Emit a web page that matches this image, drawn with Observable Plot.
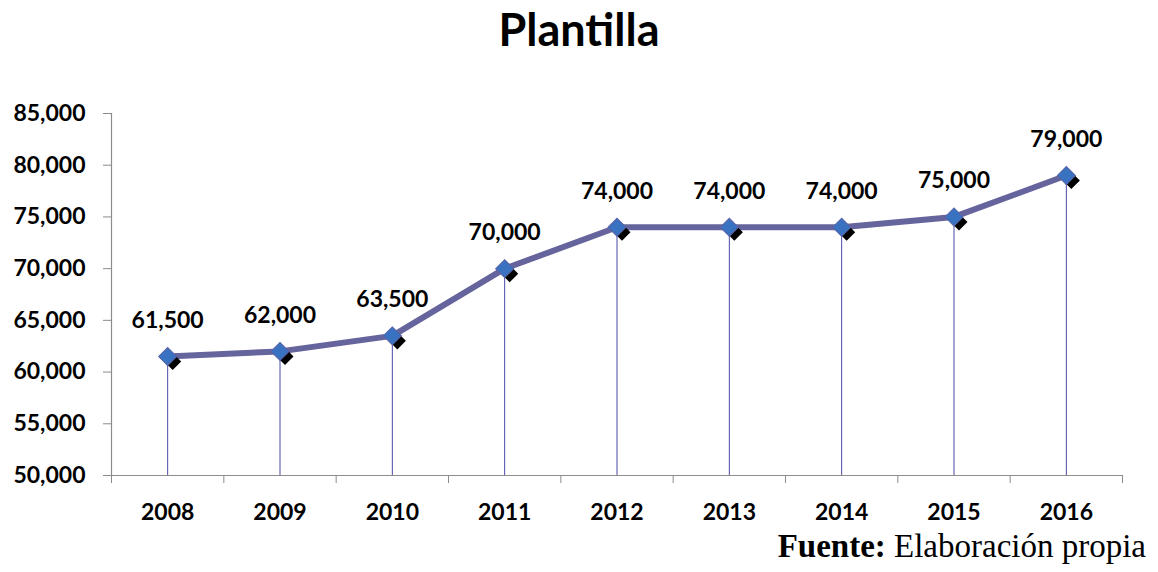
<!DOCTYPE html>
<html>
<head>
<meta charset="utf-8">
<script src="https://cdn.jsdelivr.net/npm/d3@7"></script>
<script src="https://cdn.jsdelivr.net/npm/@observablehq/plot@0.6"></script>
<style>
  html, body { margin: 0; padding: 0; background: #fff; }
  #wrap { position: relative; width: 1158px; height: 572px; overflow: hidden; }
  #title { position: absolute; left: 0; top: 2px; width: 1158px; text-align: center;
           font-family: Lato, sans-serif; font-weight: bold; font-size: 45px; color: #000; }
  #chart { position: absolute; left: 0; top: 70px; }
  #caption { position: absolute; right: 12px; top: 528px; font-family: "Liberation Serif", serif;
             font-size: 33px; color: #000; }
</style>
</head>
<body>
<div id="wrap">
  <div id="title">Plantilla</div>
  <div id="chart"></div>
  <div id="caption"><b>Fuente:</b> Elaboración propia</div>
</div>
<script>
const years = [2008, 2009, 2010, 2011, 2012, 2013, 2014, 2015, 2016];
const values = [61500, 62000, 63500, 70000, 74000, 74000, 74000, 75000, 79000];
const yTicks = [50000, 55000, 60000, 65000, 70000, 75000, 80000, 85000];

const data = years.map((year, i) => ({year, value: values[i]}));
const bounds = years.map(y => y - 0.5).concat([years[years.length - 1] + 0.5]);
const fmt = d3.format(",");
const axisGray = "#8c8c8c";

const plot = Plot.plot({
  width: 1158,
  height: 475,
  marginLeft: 111,
  marginRight: 36,
  marginTop: 43,
  marginBottom: 70,
  style: {fontFamily: "Lato, sans-serif", background: "transparent"},
  x: {type: "linear", domain: [bounds[0], bounds[bounds.length - 1]]},
  y: {domain: [50000, 85000]},
  marks: [
    Plot.axisY({ticks: yTicks, tickFormat: fmt, tickSize: 8, tickPadding: 18, stroke: axisGray,
                fontSize: 23, fontWeight: "bold", fill: "#000", label: null}),
    Plot.axisX({ticks: bounds, tickFormat: () => "", tickSize: 8, stroke: axisGray, label: null}),
    Plot.axisX({ticks: years, tickFormat: d => String(d), tickSize: 0, tickPadding: 28,
                fontSize: 23, fontWeight: "bold", fill: "#000", label: null}),
    Plot.ruleX([bounds[0]], {stroke: axisGray, strokeWidth: 1.2}),
    Plot.ruleY([50000], {stroke: axisGray, strokeWidth: 1.2}),
    Plot.ruleX(data, {x: "year", y1: 50000, y2: "value", stroke: "#4a4aa8", strokeWidth: 1}),
    Plot.line(data, {x: "year", y: "value", stroke: "#66649c", strokeWidth: 6, curve: "linear"}),
    Plot.dot(data, {x: "year", y: "value", symbol: "square", rotate: 45, r: 6.8, fill: "#000", dx: 5, dy: 5}),
    Plot.dot(data, {x: "year", y: "value", symbol: "square", rotate: 45, r: 7.2, fill: "#3a72c2", stroke: "#5a64a6", strokeWidth: 1}),
    Plot.text(data, {x: "year", y: "value", text: d => fmt(d.value), dy: -36,
                     fontSize: 23, fontWeight: "bold", fill: "#000"})
  ]
});
document.getElementById("chart").appendChild(plot);
</script>
</body>
</html>
